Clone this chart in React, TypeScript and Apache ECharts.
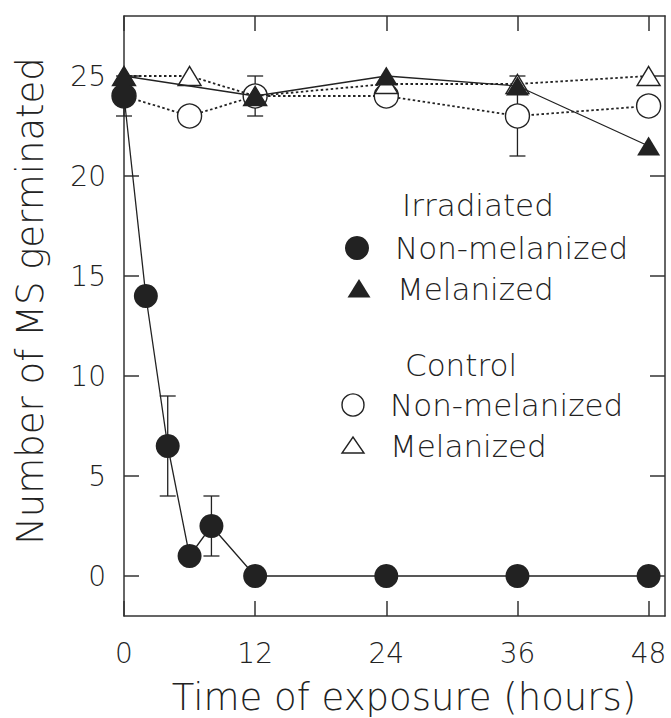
import React, { useEffect, useRef } from "react";
import * as echarts from "echarts";

// ---- data ----
const irrNonX = [0, 2, 4, 6, 8, 12, 24, 36, 48];
const irrNonY = [24, 14, 6.5, 1, 2.5, 0, 0, 0, 0];
const irrMelX = [0, 12, 24, 36, 48];
const irrMelY = [25, 24, 25, 24.5, 21.5];
const ctrlNonX = [0, 6, 12, 24, 36, 48];
const ctrlNonY = [24, 23, 24, 24, 23, 23.5];
const ctrlMelX = [0, 6, 12, 24, 36, 48];
const ctrlMelY = [25, 25, 24, 24.6, 24.6, 25];
const errX = [0, 4, 8, 12, 36];
const errLow = [23, 4, 1, 23, 21];
const errHigh = [25, 9, 4, 25, 25];
const xTicks = [0, 12, 24, 36, 48];
const yTicks = [0, 5, 10, 15, 20, 25];

const INK = "#222";
const FONT = "DejaVu Sans";
const W = 200;

const pairs = (xs: number[], ys: number[]) => xs.map((x, i) => [x, ys[i]]);

export default function App() {
  const ref = useRef<HTMLDivElement>(null);
  useEffect(() => {
    document.body.style.margin = "0";
    const chart = echarts.init(ref.current!, null, { renderer: "svg" });
    const axisCommon = {
      type: "value" as const,
      axisLine: { show: true, onZero: false, lineStyle: { color: "#333", width: 1.5 } },
      splitLine: { show: false },
    };
    const xBase = {
      ...axisCommon,
      min: 0,
      max: 49.5,
      axisTick: { show: true, inside: true, length: 15, customValues: xTicks, lineStyle: { color: "#333", width: 1.5 } },
    };
    const yBase = {
      ...axisCommon,
      min: -2,
      max: 28,
      axisTick: { show: true, inside: true, length: 15, customValues: yTicks, lineStyle: { color: "#333", width: 1.5 } },
    };
    const lineSeries = (name: string, data: number[][], symbol: string, size: any, filled: boolean, dotted: boolean, z: number) => ({
      name,
      type: "line",
      data,
      symbol,
      symbolSize: size,
      showSymbol: true,
      z,
      lineStyle: { color: INK, width: dotted ? 1.8 : 1.3, type: dotted ? [2.5, 2.5] : "solid" },
      itemStyle: { color: filled ? INK : "#fff", borderColor: INK, borderWidth: filled ? 0 : 1.4, opacity: 1 },
      emphasis: { disabled: true },
    });
    const errData = errX.map((x, i) => [x, errLow[i], errHigh[i]]);

    const legendText = (text: string, x: number, y: number) => ({
      type: "text",
      x,
      y,
      style: { text, font: `${W} 31px "${FONT}"`, fill: INK, textVerticalAlign: "middle" },
    });

    chart.setOption({
      animation: false,
      backgroundColor: "#fff",
      grid: { left: 124, right: 6, top: 16, bottom: 102 },
      xAxis: [
        {
          ...xBase,
          position: "bottom",
          axisLabel: { show: true, customValues: xTicks, margin: 23, fontSize: 28, fontWeight: W, fontFamily: FONT, color: INK },
        },
        { ...xBase, position: "top", axisLabel: { show: false } },
      ],
      yAxis: [
        {
          ...yBase,
          position: "left",
          axisLabel: { show: true, customValues: yTicks, margin: 18, fontSize: 28, fontWeight: W, fontFamily: FONT, color: INK },
        },
        { ...yBase, position: "right", axisLabel: { show: false } },
      ],
      series: [
        {
          type: "custom",
          name: "error",
          data: errData,
          encode: { x: 0, y: [1, 2] },
          z: 1,
          silent: true,
          renderItem: (params: any, api: any) => {
            const x = api.value(0);
            const lo = api.coord([x, api.value(1)]);
            const hi = api.coord([x, api.value(2)]);
            const w = 8;
            const st = { stroke: INK, lineWidth: 1.3 };
            return {
              type: "group",
              children: [
                { type: "line", shape: { x1: lo[0], y1: lo[1], x2: hi[0], y2: hi[1] }, style: st },
                { type: "line", shape: { x1: lo[0] - w, y1: lo[1], x2: lo[0] + w, y2: lo[1] }, style: st },
                { type: "line", shape: { x1: hi[0] - w, y1: hi[1], x2: hi[0] + w, y2: hi[1] }, style: st },
              ],
            };
          },
        },
        lineSeries("Control Non-melanized", pairs(ctrlNonX, ctrlNonY), "circle", 24, false, true, 2),
        lineSeries("Control Melanized", pairs(ctrlMelX, ctrlMelY), "triangle", [23, 19], false, true, 3),
        lineSeries("Irradiated Non-melanized", pairs(irrNonX, irrNonY), "circle", 24, true, false, 4),
        lineSeries("Irradiated Melanized", pairs(irrMelX, irrMelY), "triangle", [23, 19], true, false, 5),
      ],
      graphic: [
        {
          type: "text",
          x: 404,
          y: 697,
          style: { text: "Time of exposure (hours)", font: `${W} 37px "${FONT}"`, fill: INK, textAlign: "center", textVerticalAlign: "middle" },
        },
        {
          type: "text",
          x: 30,
          y: 301,
          rotation: Math.PI / 2,
          style: { text: "Number of MS germinated", font: `${W} 37px "${FONT}"`, fill: INK, textAlign: "center", textVerticalAlign: "middle" },
        },
        legendText("Irradiated", 402, 205),
        { type: "circle", shape: { cx: 357, cy: 248, r: 12 }, style: { fill: INK } },
        legendText("Non-melanized", 395, 248),
        { type: "polygon", shape: { points: [[347.5, 297.5], [370.5, 297.5], [359, 279]] }, style: { fill: INK } },
        legendText("Melanized", 397, 289),
        legendText("Control", 405, 365),
        { type: "circle", shape: { cx: 353, cy: 405, r: 11 }, style: { fill: "#fff", stroke: INK, lineWidth: 1.4 } },
        legendText("Non-melanized", 390, 405),
        { type: "polygon", shape: { points: [[342, 453], [364, 453], [353, 437]] }, style: { fill: "#fff", stroke: INK, lineWidth: 1.4 } },
        legendText("Melanized", 390, 446),
      ],
    });
    return () => chart.dispose();
  }, []);
  return <div ref={ref} style={{ width: 671, height: 718 }} />;
}
